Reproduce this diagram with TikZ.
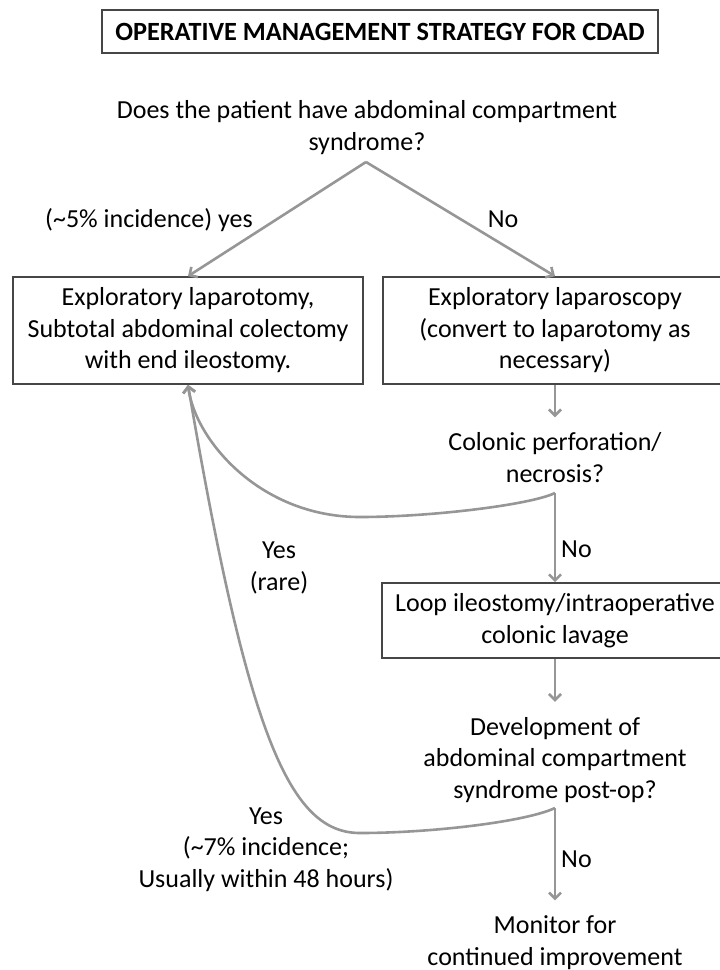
\documentclass[tikz,border=0pt]{standalone}
\usepackage{fontspec}
\setmainfont{Carlito}
\usetikzlibrary{arrows.meta,positioning}

\definecolor{boxgray}{RGB}{70,70,70}
\definecolor{arrgray}{RGB}{150,150,150}

\begin{document}
\begin{tikzpicture}[
    x=1pt, y=-1pt,
    font=\fontsize{26}{31.5}\selectfont,
    box/.style={draw=boxgray, line width=1.6pt, align=center, inner sep=0pt},
    txt/.style={align=center, inner xsep=0pt, inner ysep=15pt, anchor=base},
    lbl/.style={align=center, inner sep=0pt, anchor=base},
    arr/.style={draw=arrgray, line width=2.6pt, -{Straight Barb[length=6pt,width=12pt]}},
  ]
  \path[use as bounding box, clip] (0,0) rectangle (720,970);

  \node[box, minimum width=556, minimum height=43, font=\fontsize{26.3}{31.5}\selectfont\bfseries]
    (title) at (380,31.5) {OPERATIVE MANAGEMENT STRATEGY FOR CDAD};

  \node[txt] (acs) at (367,150) {Does the patient have abdominal compartment\\syndrome?};
  \node[box, minimum width=350, minimum height=107] (lap) at (188,330.5)
    {Exploratory laparotomy,\\Subtotal abdominal colectomy\\with end ileostomy.};
  \node[box, minimum width=344, minimum height=107] (scopy) at (555,330.5)
    {Exploratory laparoscopy\\(convert to laparotomy as\\necessary)};
  \node[txt] (perf) at (555,482) {Colonic perforation/\\necrosis?};
  \node[box, minimum width=346, minimum height=75] (loop) at (555,620.5)
    {Loop ileostomy/intraoperative\\colonic lavage};
  \node[txt] (postop) at (555,798) {Development of\\abdominal compartment\\syndrome post-op?};
  \node[txt] (monitor) at (555,965) {Monitor for\\continued improvement};

  % branch labels
  \node[lbl] (yes1) at (149,227) {(\textasciitilde5\% incidence) yes};
  \node[lbl] (no1) at (503,227) {No};
  \node[lbl, anchor=base west] (no2) at (561,557) {No};
  \node[lbl, anchor=base west] (no3) at (561,867) {No};
  \node[lbl] (yes2) at (279,590) {Yes\\(rare)};
  \node[lbl] (yes3) at (266,887) {Yes\\(\textasciitilde7\% incidence;\\Usually within 48 hours)};

  \coordinate (fork1) at (366,162);
  \coordinate (fork2) at (555,493);
  \coordinate (fork3) at (555,808);

  \draw[arr] (fork1) -- (lap.north);
  \draw[arr] (fork1) -- (scopy.north);
  \draw[arr] (scopy) -- (perf);
  \draw[arr] (fork2) -- (loop);
  \draw[arr] (loop) -- (postop);
  \draw[arr] (fork3) -- (monitor);
  \draw[arr] (fork2) .. controls (530,505) and (430,517) .. (360,517)
    .. controls (260,517) and (195,440) .. (lap.south);
  \draw[arr] (fork3) .. controls (525,822) and (430,833) .. (360,833)
    .. controls (290,833) and (248,737) .. (lap.south);
\end{tikzpicture}
\end{document}
